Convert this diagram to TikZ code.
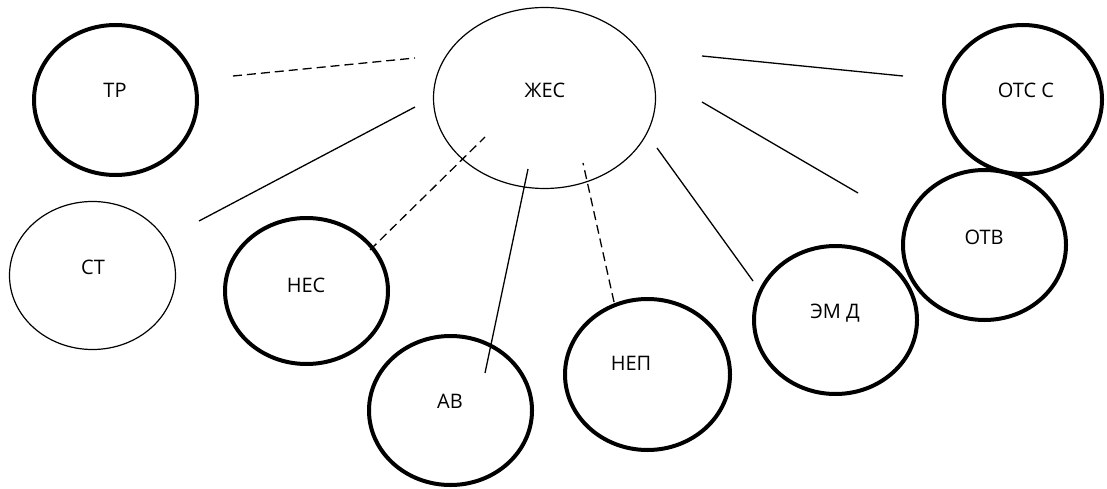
\documentclass[tikz,border=0pt]{standalone}
\usepackage{fontspec}
\setmainfont{Open Sans}
\usetikzlibrary{shapes.geometric}
\begin{document}
\begin{tikzpicture}[x=1pt,y=-1pt,
  bubble/.style={ellipse,draw,line width=4pt,inner sep=0pt},
  thinbubble/.style={ellipse,draw,line width=1.2pt,inner sep=0pt},
  lbl/.style={font=\fontsize{20}{24}\selectfont,inner sep=0pt},
  link/.style={line width=1.3pt},
  dlink/.style={line width=1.3pt,dash pattern=on 9pt off 5pt}]
\useasboundingbox (0,0) rectangle (1107,489);
% bubbles
\node[bubble,minimum width=163pt,minimum height=150pt] (tr) at (115.5,100) {};
\node[thinbubble,minimum width=222pt,minimum height=181pt] (zhes) at (544.5,98) {};
\node[bubble,minimum width=158pt,minimum height=149pt] (otsc) at (1023,99.5) {};
\node[bubble,minimum width=163pt,minimum height=150pt] (otv) at (984.5,245) {};
\node[bubble,minimum width=163pt,minimum height=148pt] (emd) at (835.5,320) {};
\node[thinbubble,minimum width=166pt,minimum height=148pt] (st) at (92.5,275.5) {};
\node[bubble,minimum width=163pt,minimum height=146pt] (nes) at (306.5,291) {};
\node[bubble,minimum width=163pt,minimum height=149pt] (av) at (450.5,410.5) {};
\node[bubble,minimum width=165pt,minimum height=151pt] (nep) at (647.5,374.5) {};
% labels
\node[lbl] (trT) at (115,90) {ТР};
\node[lbl] (zhesT) at (545,90) {ЖЕС};
\node[lbl] (otscT) at (1026,90) {ОТС С};
\node[lbl] (otvT) at (984,237) {ОТВ};
\node[lbl] (emdT) at (835,313) {ЭМ Д};
\node[lbl] (stT) at (93,267) {СТ};
\node[lbl] (nesT) at (306,285) {НЕС};
\node[lbl] (avT) at (450,401) {АВ};
\node[lbl] (nepT) at (631,363) {НЕП};
% connector end points
\coordinate (trA) at (233,76);   \coordinate (trB) at (415,58);
\coordinate (stA) at (199,221);  \coordinate (stB) at (415,107);
\coordinate (nesA) at (370,250); \coordinate (nesB) at (485,137);
\coordinate (avA) at (485,373);  \coordinate (avB) at (528,169);
\coordinate (nepA) at (614,302); \coordinate (nepB) at (583,163);
\coordinate (emdA) at (753,281); \coordinate (emdB) at (657,148);
\coordinate (otvA) at (858,193); \coordinate (otvB) at (702,102);
\coordinate (otscA) at (903,76); \coordinate (otscB) at (702,56);
% connectors
\draw[dlink] (trA) -- (trB);
\draw[link] (stA) -- (stB);
\draw[dlink] (nesA) -- (nesB);
\draw[link] (avA) -- (avB);
\draw[dlink] (nepA) -- (nepB);
\draw[link] (emdA) -- (emdB);
\draw[link] (otvA) -- (otvB);
\draw[link] (otscA) -- (otscB);
\end{tikzpicture}
\end{document}
